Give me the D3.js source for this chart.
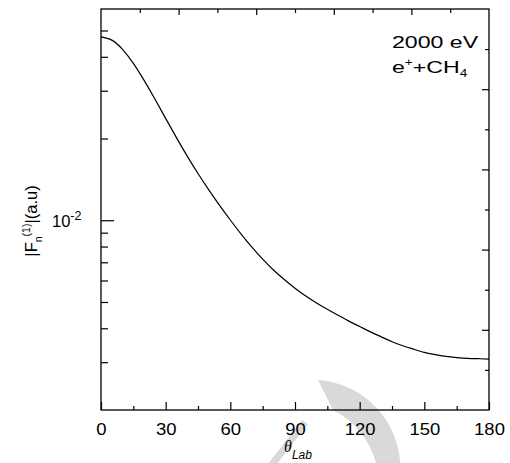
<!DOCTYPE html>
<html>
<head>
<meta charset="utf-8">
<script src="https://cdn.jsdelivr.net/npm/d3@7"></script>
<style>
  body { margin: 0; background: #fff; }
  text { font-family: "Liberation Sans", Arial, sans-serif; fill: #000; }
</style>
</head>
<body>
<script>

// scattering angle (deg) and |F_n^(1)| (a.u.)
const thetaDeg = [0, 5, 10, 15, 20, 25, 30, 35, 40, 45, 50, 55, 60, 65, 70, 75, 80, 85, 90,
                  95, 100, 105, 110, 115, 120, 125, 130, 135, 140, 145, 150, 155, 160, 165, 170, 175, 180];
const formFactor = [0.04737, 0.04608, 0.04259, 0.03783, 0.03275, 0.02797, 0.02372, 0.02015, 0.01723,
                    0.01486, 0.01294, 0.01135, 0.01002, 0.00889, 0.00796, 0.00719, 0.00656, 0.00605,
                    0.00562, 0.00526, 0.00496, 0.00470, 0.00447, 0.00425, 0.00406, 0.00388, 0.00372,
                    0.00357, 0.00345, 0.00335, 0.00326, 0.00320, 0.00315, 0.00312, 0.00310, 0.00309, 0.00308];

const xMajorTicks = [0, 30, 60, 90, 120, 150, 180];
const xMinorTicks = [15, 45, 75, 105, 135, 165];
const yMajorTicks = [0.01];
const yMinorTicks = [0.003, 0.004, 0.005, 0.006, 0.007, 0.008, 0.009, 0.02, 0.03, 0.04, 0.05];
// the top and right frame carry unlabeled ticks, 10 even steps
const frameSteps = d3.range(1, 10);

const annotLine1 = "2000 eV";
const annotLine2 = ["e", "+", "+CH", "4"];

const W = 510, H = 463;
const mLeft = 101, mRight = 489, mTop = 9, mBottom = 410;

const svg = d3.select("body").append("svg").attr("width", W).attr("height", H);

const x = d3.scaleLinear().domain([0, 180]).range([mLeft, mRight]);
const y = d3.scaleLog().domain([0.002, 0.06]).range([mBottom, mTop]);
const xFrame = d3.scaleLinear().domain([0, 10]).range([mLeft, mRight]);
const yFrame = d3.scaleLinear().domain([0, 10]).range([mBottom, mTop]);

// grey watermark left over in the scanned figure
svg.append("path")
    .attr("d", "M318,380 A88.3,88.3 0 0 1 400.3,470 L377.6,470 A84,84 0 0 0 333,410 Z")
    .attr("fill", "#d9d9d9");
svg.append("line")
    .attr("x1", 270).attr("y1", 467).attr("x2", 305).attr("y2", 422)
    .attr("stroke", "#d9d9d9").attr("stroke-width", 7);

function styleAxis(g) {
    g.select(".domain").remove();
    g.selectAll("line").attr("stroke", "#000").attr("stroke-width", 1.2);
    g.attr("font-family", null).attr("font-size", null);
}

// bottom axis
const gx = svg.append("g").attr("transform", `translate(0,${mBottom})`)
    .call(d3.axisBottom(x).tickValues(xMajorTicks).tickSizeInner(-8).tickSizeOuter(0).tickPadding(13))
    .call(styleAxis);
gx.selectAll("text").attr("font-size", "16.5px").attr("transform", "scale(1.12,1)");

svg.append("g").attr("transform", `translate(0,${mBottom})`)
    .call(d3.axisBottom(x).tickValues(xMinorTicks).tickSizeInner(-4).tickSizeOuter(0).tickFormat(""))
    .call(styleAxis);

// left axis (log)
svg.append("g").attr("transform", `translate(${mLeft},0)`)
    .call(d3.axisLeft(y).tickValues(yMajorTicks).tickSizeInner(-13).tickSizeOuter(0).tickFormat(""))
    .call(styleAxis);
svg.append("g").attr("transform", `translate(${mLeft},0)`)
    .call(d3.axisLeft(y).tickValues(yMinorTicks).tickSizeInner(-7).tickSizeOuter(0).tickFormat(""))
    .call(styleAxis);

const yLab = svg.append("text")
    .attr("x", 52).attr("y", y(0.01) + 6.5)
    .attr("font-size", "16.5px");
yLab.append("tspan").text("10");
yLab.append("tspan").attr("dy", -7).attr("font-size", "12.5px").text("-2");

// top and right frame ticks
svg.append("g").attr("transform", `translate(0,${mTop})`)
    .call(d3.axisBottom(xFrame).tickValues(frameSteps)
        .tickSize(0).tickFormat(""))
    .call(styleAxis)
    .selectAll(".tick line").attr("y2", d => d % 2 ? 4 : 6);

svg.append("g").attr("transform", `translate(${mRight},0)`)
    .call(d3.axisLeft(yFrame).tickValues(frameSteps)
        .tickSize(0).tickFormat(""))
    .call(styleAxis)
    .selectAll(".tick line").attr("x2", d => d % 2 ? -4 : -7);

// frame
svg.append("rect")
    .attr("x", mLeft).attr("y", mTop)
    .attr("width", mRight - mLeft).attr("height", mBottom - mTop)
    .attr("fill", "none").attr("stroke", "#000").attr("stroke-width", 1.3);

// curve
const line = d3.line()
    .x((d, i) => x(thetaDeg[i]))
    .y(d => y(d))
    .curve(d3.curveNatural);

svg.append("path")
    .datum(formFactor)
    .attr("d", line)
    .attr("fill", "none")
    .attr("stroke", "#000")
    .attr("stroke-width", 1.2);

// annotation (wide lettering in the original)
const annot = svg.append("g").attr("transform", "translate(392,0) scale(1.36,1)");
annot.append("text").attr("x", 0).attr("y", 48).attr("font-size", "17px").text(annotLine1);
const a2 = annot.append("text").attr("x", 0).attr("y", 73).attr("font-size", "17px");
a2.append("tspan").text(annotLine2[0]);
a2.append("tspan").attr("dy", -7).attr("font-size", "10px").text(annotLine2[1]);
a2.append("tspan").attr("dy", 7).text(annotLine2[2]);
a2.append("tspan").attr("dy", 4).attr("font-size", "10px").text(annotLine2[3]);

// y title
const yt = svg.append("text")
    .attr("transform", "translate(37,221) rotate(-90)")
    .attr("text-anchor", "middle")
    .attr("font-size", "16.5px");
yt.append("tspan").text("|F");
yt.append("tspan").attr("dy", 5).attr("font-size", "10.5px").text("n");
yt.append("tspan").attr("dy", -12).attr("font-size", "10.5px").text("(1)");
yt.append("tspan").attr("dy", 7).text("|(a.u)");

// x title
const xt = svg.append("text")
    .attr("x", x(90) + 3).attr("y", 452)
    .attr("text-anchor", "middle");
xt.append("tspan")
    .attr("font-family", "'Liberation Serif', serif")
    .attr("font-style", "italic")
    .attr("font-size", "16px")
    .text("\u03b8");
xt.append("tspan")
    .attr("dy", 7)
    .attr("font-style", "italic")
    .attr("font-size", "12px")
    .text("Lab");

</script>
</body>
</html>
